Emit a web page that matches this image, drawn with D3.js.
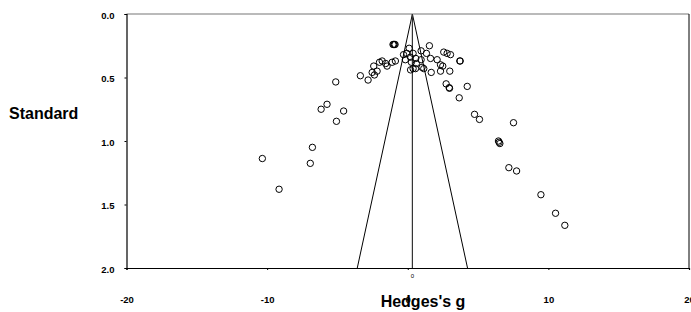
<!DOCTYPE html>
<html>
<head>
<meta charset="utf-8">
<script src="https://cdn.jsdelivr.net/npm/d3@7"></script>
<style>
  body { margin: 0; background: #fff; }
  svg { display: block; font-family: "Liberation Sans", Arial, sans-serif; }
</style>
</head>
<body>
<svg id="chart"></svg>
<script>
// effect sizes (Hedges's g) and standard errors
const hedgesG = [
  -1.05, -1.0, -0.95, -0.9, 0.10, 1.54, -0.07, 0.38, 0.95, 1.33,
  0.19, 0.57, 0.95, 1.62, 2.09, 2.56, 2.80, 3.04, 3.73, 3.70,
  0.38, 0.55, 1.02, 1.14, 0.20, 1.67, 2.33, 2.49, 2.33, 2.99,
  2.73, 2.97, 2.95, 4.23, 3.66, 4.75, 5.10, 7.52, 6.45, 6.50,
  6.55, 7.19, 7.74, 9.47, 10.51, 11.17, -0.88, -1.11, -1.57, -1.47,
  -1.82, -2.01, -2.42, -2.18, -2.53, -2.37, -2.82, -3.37, -5.12, -5.74,
  -6.16, -4.56, -5.07, -6.78, -10.34, -6.93, -9.15, -0.30, 0.26, 0.61,
  -0.17
];
const stdErr = [
  0.24, 0.24, 0.24, 0.24, 0.27, 0.25, 0.31, 0.31, 0.29, 0.31,
  0.34, 0.35, 0.36, 0.35, 0.36, 0.30, 0.31, 0.32, 0.37, 0.37,
  0.43, 0.43, 0.42, 0.43, 0.44, 0.46, 0.40, 0.41, 0.45, 0.45,
  0.55, 0.585, 0.58, 0.57, 0.66, 0.79, 0.83, 0.856, 1.0, 1.01,
  1.02, 1.21, 1.236, 1.423, 1.569, 1.664, 0.37, 0.38, 0.39, 0.41,
  0.37, 0.38, 0.41, 0.45, 0.46, 0.48, 0.52, 0.486, 0.535, 0.711,
  0.75, 0.764, 0.845, 1.05, 1.138, 1.176, 1.38, 0.32, 0.38, 0.39,
  0.36
];
const pooledG = 0.33;
const xTicks = [-20, -10, 0, 10, 20];
const yTicks = [0, 0.5, 1.0, 1.5, 2.0];

const points = hedgesG.map((g, i) => ({ g: g, se: stdErr[i] }));

const width = 691;
const height = 312;
const margin = { top: 14, right: 2, bottom: 44, left: 126.5 };

const svg = d3.select("#chart")
  .attr("width", width)
  .attr("height", height);

const x = d3.scaleLinear()
  .domain([-20, 20])
  .range([margin.left, width - margin.right]);

const y = d3.scaleLinear()
  .domain([0, 2])
  .range([margin.top, height - margin.bottom]);

// frame
svg.append("line")
  .attr("x1", x(-20)).attr("x2", x(20))
  .attr("y1", y(0)).attr("y2", y(0))
  .attr("stroke", "#777").attr("stroke-width", 1.2);
svg.append("line")
  .attr("x1", x(20)).attr("x2", x(20))
  .attr("y1", y(0)).attr("y2", y(2))
  .attr("stroke", "#000").attr("stroke-width", 1);

// x axis
const xAxis = svg.append("g")
  .attr("transform", `translate(0,${y(2)})`)
  .call(d3.axisBottom(x).tickValues(xTicks).tickSize(2).tickPadding(26)
    .tickFormat((d) => String(d)));
xAxis.select(".domain").attr("stroke-width", 1.2);
xAxis.selectAll("text")
  .attr("fill", "#000")
  .style("font-size", "9.5px")
  .style("font-weight", "bold");

// y axis
const yAxis = svg.append("g")
  .attr("transform", `translate(${margin.left},0)`)
  .call(d3.axisLeft(y).tickValues(yTicks).tickSize(2).tickPadding(10)
    .tickFormat((d) => d.toFixed(1)));
yAxis.select(".domain").attr("stroke-width", 1.2);
yAxis.selectAll("text")
  .attr("fill", "#000")
  .attr("dy", "0.45em")
  .style("font-size", "9.5px")
  .style("font-weight", "bold");

// funnel lines
const half = 1.96 * 2;
svg.append("line")
  .attr("x1", x(pooledG)).attr("y1", y(0))
  .attr("x2", x(pooledG - half)).attr("y2", y(2))
  .attr("stroke", "#000").attr("stroke-width", 1);
svg.append("line")
  .attr("x1", x(pooledG)).attr("y1", y(0))
  .attr("x2", x(pooledG + half)).attr("y2", y(2))
  .attr("stroke", "#000").attr("stroke-width", 1);
svg.append("line")
  .attr("x1", x(pooledG)).attr("y1", y(0))
  .attr("x2", x(pooledG)).attr("y2", y(2))
  .attr("stroke", "#333").attr("stroke-width", 1.2);

// small label under the centre line
svg.append("text")
  .attr("x", x(pooledG))
  .attr("y", y(2) + 10)
  .attr("text-anchor", "middle")
  .style("font-size", "6px")
  .text("0");

// studies
svg.append("g")
  .selectAll("circle")
  .data(points)
  .join("circle")
  .attr("cx", (d) => x(d.g))
  .attr("cy", (d) => y(d.se))
  .attr("r", 3.2)
  .attr("fill", "none")
  .attr("stroke", "#000")
  .attr("stroke-width", 1);

// axis titles
svg.append("text")
  .attr("x", 423)
  .attr("y", 307)
  .attr("text-anchor", "middle")
  .style("font-size", "16px")
  .style("font-weight", "bold")
  .text("Hedges's g");

svg.append("text")
  .attr("x", 9)
  .attr("y", 119)
  .style("font-size", "16px")
  .style("font-weight", "bold")
  .text("Standard");
</script>
</body>
</html>
